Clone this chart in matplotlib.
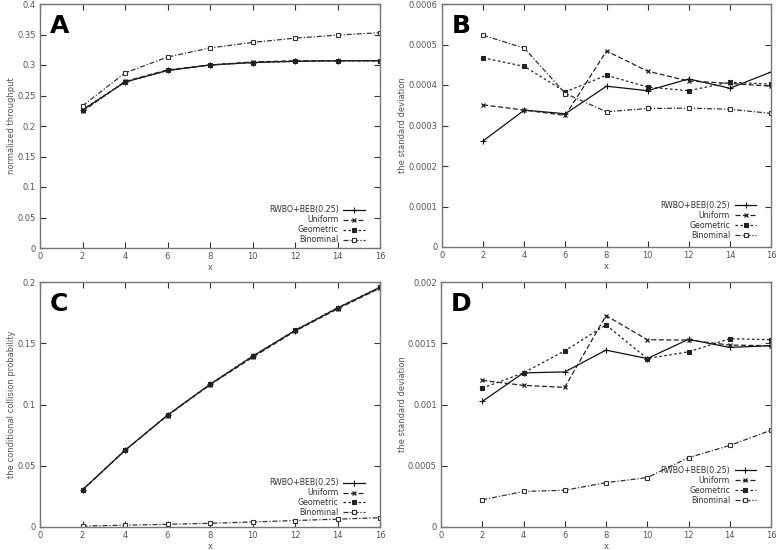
import numpy as np
import matplotlib
matplotlib.use('Agg')
import matplotlib.pyplot as plt

x = [2, 4, 6, 8, 10, 12, 14, 16]
names = ['RWBO+BEB(0.25)', 'Uniform', 'Geometric', 'Binominal']

# A: normalized throughput
a_rwbo = [0.226, 0.272, 0.291, 0.300, 0.304, 0.306, 0.307, 0.307]
a_unif = [0.224, 0.273, 0.292, 0.300, 0.305, 0.307, 0.307, 0.307]
a_geom = [0.227, 0.272, 0.291, 0.300, 0.304, 0.306, 0.307, 0.307]
a_bino = [0.233, 0.287, 0.313, 0.328, 0.337, 0.344, 0.349, 0.353]

# B: standard deviation of throughput
b_rwbo = [0.000262, 0.000338, 0.000329, 0.000397, 0.000386, 0.000415, 0.000392, 0.000432]
b_unif = [0.000351, 0.000338, 0.000325, 0.000484, 0.000434, 0.000410, 0.000404, 0.000397]
b_geom = [0.000467, 0.000446, 0.000383, 0.000424, 0.000395, 0.000386, 0.000407, 0.000402]
b_bino = [0.000523, 0.000491, 0.000379, 0.000334, 0.000342, 0.000343, 0.000340, 0.000330]

# C: conditional collision probability
c_rwbo = [0.0303, 0.0626, 0.0913, 0.1164, 0.1393, 0.1604, 0.1787, 0.1956]
c_unif = [0.0302, 0.0625, 0.0910, 0.1160, 0.1385, 0.1598, 0.1780, 0.1950]
c_geom = [0.0303, 0.0626, 0.0913, 0.1165, 0.1395, 0.1605, 0.1790, 0.1958]
c_bino = [0.0008, 0.0015, 0.0022, 0.0030, 0.0041, 0.0053, 0.0064, 0.0076]

# D: standard deviation of collision probability
d_rwbo = [0.001025, 0.001258, 0.001266, 0.001444, 0.001375, 0.001532, 0.001466, 0.001480]
d_unif = [0.001197, 0.001156, 0.001140, 0.001726, 0.001529, 0.001526, 0.001485, 0.001480]
d_geom = [0.001134, 0.001258, 0.001438, 0.001650, 0.001375, 0.001430, 0.001537, 0.001529]
d_bino = [0.000222, 0.000290, 0.000300, 0.000362, 0.000403, 0.000566, 0.000666, 0.000790]

styles = [dict(ls='-', marker='+', ms=4.5, mew=0.8),
          dict(ls=(0, (4, 2)), marker='x', ms=3.5, mew=0.9),
          dict(ls=(0, (2, 2)), marker='s', ms=3, mew=0.8),
          dict(ls=(0, (4, 1.5, 1, 1.5)), marker='s', ms=3.5, mew=0.8, mfc='white')]
colors = ['#111111', '#222222', '#222222', '#333333']

fig = plt.figure(figsize=(7.77, 5.5), dpi=100)
W, H = 777.0, 550.0
boxes = [(40, 4, 380, 248), (442, 4, 771, 247), (40, 282, 380, 527), (441, 282, 771, 527)]
panels = [('A', [a_rwbo, a_unif, a_geom, a_bino], 0.4, 0.05, 'normalized throughput', 0.015),
          ('B', [b_rwbo, b_unif, b_geom, b_bino], 0.0006, 0.0001, 'the standard deviation', 0.03),
          ('C', [c_rwbo, c_unif, c_geom, c_bino], 0.2, 0.05, 'the conditional collision probability', 0.04),
          ('D', [d_rwbo, d_unif, d_geom, d_bino], 0.002, 0.0005, 'the standard deviation', 0.09)]

for (l, t, r, b), (letter, series, ymax, ystep, ylab, legy) in zip(boxes, panels):
    ax = fig.add_axes([l / W, 1 - b / H, (r - l) / W, (b - t) / H])
    for s, name, st, c in zip(series, names, styles, colors):
        ax.plot(x, s, color=c, lw=0.9, label=name, **st)
    ax.set_xlim(0, 16)
    ax.set_ylim(0, ymax)
    ax.set_xticks(np.arange(0, 17, 2))
    yt = np.round(np.arange(0, ymax + ystep / 2, ystep), 6)
    ax.set_yticks(yt)
    ax.set_yticklabels(['%g' % v for v in yt])
    ax.tick_params(direction='in', top=True, right=True, length=4, width=0.8,
                   labelsize=6, labelcolor='#555555', color='#333333', pad=3)
    for sp in ax.spines.values():
        sp.set_color('#777777')
        sp.set_linewidth(1.0)
    ax.set_xlabel('x', fontsize=6, color='#555555', labelpad=1)
    ax.set_ylabel(ylab, fontsize=6, color='#555555', labelpad=1)
    ax.text(0.03, 0.96, letter, transform=ax.transAxes, fontsize=18,
            fontweight='bold', va='top', ha='left')
    leg = ax.legend(loc='lower right', bbox_to_anchor=(0.955, legy), frameon=False,
                    markerfirst=False, fontsize=5.7, handlelength=2.7,
                    labelspacing=0.12, handletextpad=0.6, borderaxespad=0.0,
                    borderpad=0.0)
    for txt in leg.get_texts():
        txt.set_ha('right')
        txt.set_color('#333333')
    leg._legend_box.align = 'right'

fig.savefig('out.png', dpi=100)
